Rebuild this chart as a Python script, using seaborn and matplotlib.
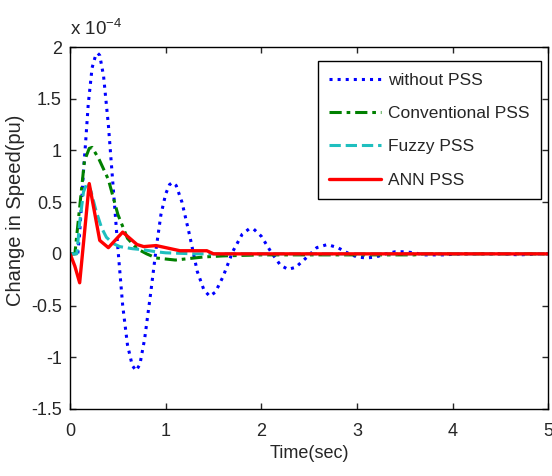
import pandas as pd
import matplotlib
matplotlib.use("Agg")
import matplotlib.pyplot as plt
import seaborn as sns

sns.set_style("ticks")
plt.rcParams['font.family'] = ['Liberation Sans', 'DejaVu Sans']
plt.rcParams['mathtext.fontset'] = 'custom'
plt.rcParams['mathtext.rm'] = 'Liberation Sans'
plt.rcParams['mathtext.default'] = 'regular'

# speed deviation in units of 1e-4 pu
t_without = [0, 0.08, 0.1, 0.14, 0.16, 0.19, 0.23, 0.27, 0.29, 0.31, 0.35, 0.4, 0.45, 0.5,
             0.55, 0.6, 0.65, 0.69, 0.73, 0.78, 0.84, 0.9, 0.95, 1.0, 1.04, 1.07, 1.11, 1.17,
             1.25, 1.33, 1.4, 1.46, 1.52, 1.6, 1.7, 1.8, 1.87, 1.92, 2.0, 2.1, 2.2, 2.28,
             2.36, 2.48, 2.58, 2.69, 2.8, 2.92, 3.0, 3.1, 3.2, 3.3, 3.4, 3.5, 3.6, 3.7, 3.9,
             4.1, 4.5, 4.7, 4.9, 5.0]
y_without = [0, 0.0, 0.2, 0.8, 1.05, 1.45, 1.8, 1.93, 1.94, 1.92, 1.72, 1.25, 0.65, 0.05,
             -0.5, -0.88, -1.08, -1.13, -1.07, -0.82, -0.4, 0.05, 0.38, 0.58, 0.67, 0.69, 0.66, 0.5,
             0.18, -0.17, -0.35, -0.41, -0.37, -0.22, 0.02, 0.19, 0.24, 0.24, 0.17, 0.02, -0.11, -0.15,
             -0.13, -0.03, 0.06, 0.09, 0.06, 0.0, -0.03, -0.04, -0.03, 0.0, 0.02, 0.02, 0.01, -0.01, -0.01,
             0.0, 0.0, -0.01, 0.0, 0.0]

t_conv = [0, 0.05, 0.1, 0.15, 0.2, 0.23, 0.3, 0.4, 0.5, 0.6, 0.7, 0.8, 0.9, 1.0, 1.1, 1.2,
          1.4, 1.6, 2.0, 3.6, 3.7, 5.0]
y_conv = [0, 0.0, 0.45, 0.9, 1.02, 1.03, 0.92, 0.72, 0.38, 0.15, 0.05, 0.0, -0.04, -0.05, -0.06, -0.05,
          -0.03, -0.02, -0.01, -0.01, 0.0, 0.0]

t_fuzzy = [0, 0.07, 0.1, 0.14, 0.18, 0.22, 0.27, 0.33, 0.38, 0.45, 0.52, 0.65, 0.76, 0.9, 1.0, 1.3, 5.0]
y_fuzzy = [0, 0.0, 0.3, 0.6, 0.69, 0.6, 0.42, 0.25, 0.16, 0.1, 0.07, 0.05, 0.04, 0.02, 0.01, 0.0, 0.0]

t_ann = [0, 0.05, 0.1, 0.2, 0.31, 0.4, 0.55, 0.7, 0.77, 0.9, 1.15, 1.43, 1.5, 5.0]
y_ann = [0, -0.12, -0.28, 0.68, 0.13, 0.06, 0.21, 0.09, 0.07, 0.08, 0.03, 0.03, 0.0, 0.0]

fig, ax = plt.subplots(figsize=(5.52, 4.76), dpi=100)
fig.subplots_adjust(left=0.127, right=0.993, bottom=0.141, top=0.901)

sns.lineplot(ax=ax, x=t_without, y=y_without, color="#0000FF", lw=2.2, linestyle=":",
             label="without PSS", estimator=None)
g = sns.lineplot(ax=ax, x=t_conv, y=y_conv, color="#008000", lw=2.2, label="Conventional PSS",
                 estimator=None)
g.lines[-1].set_dashes([4, 1.6, 1.2, 1.6])
sns.lineplot(ax=ax, x=t_fuzzy, y=y_fuzzy, color="#1FBFBF", lw=2.2, linestyle="--",
             label="Fuzzy PSS", estimator=None)
sns.lineplot(ax=ax, x=t_ann, y=y_ann, color="#FF0000", lw=2.4, label="ANN PSS", estimator=None)

ax.set_xlim(0, 5)
ax.set_ylim(-1.5, 2)
ax.set_xticks([0, 1, 2, 3, 4, 5])
ax.set_yticks([-1.5, -1, -0.5, 0, 0.5, 1, 1.5, 2])
ax.set_yticklabels(["-1.5", "-1", "-0.5", "0", "0.5", "1", "1.5", "2"])
ax.tick_params(direction="in", top=True, right=True, length=4, width=1, labelsize=13, pad=6)
ax.tick_params(axis="x", pad=10)
for s in ax.spines.values():
    s.set_linewidth(1.0)
    s.set_color("black")

ax.set_xlabel("Time(sec)", fontsize=13, labelpad=4)
ax.set_ylabel("Change in Speed(pu)", fontsize=14.5)
ax.yaxis.set_label_coords(-0.095, 0.55)
ax.text(0.0, 1.033, r"x 10$^{-4}$", transform=ax.transAxes, fontsize=13.5, va="baseline", ha="left")

leg = ax.legend(loc="upper right", bbox_to_anchor=(0.985, 0.961), borderaxespad=0,
                fontsize=12.5, handlelength=3.0, handletextpad=0.4, labelspacing=1.05,
                borderpad=0.65, fancybox=False, framealpha=1, edgecolor="black")
leg.get_frame().set_linewidth(1.0)

plt.savefig("out.png", dpi=100)
